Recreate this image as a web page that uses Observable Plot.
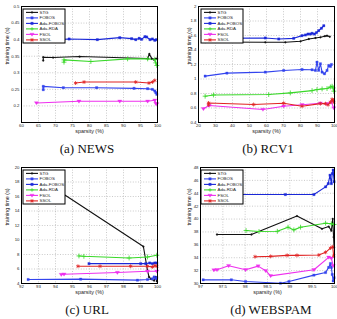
<!DOCTYPE html>
<html>
<head>
<meta charset="utf-8">
<script src="https://cdn.jsdelivr.net/npm/d3@7"></script>
<script src="https://cdn.jsdelivr.net/npm/@observablehq/plot@0.6"></script>
<style>
  body { margin: 0; background: #fff; }
  #fig { position: relative; width: 337px; height: 319px; overflow: hidden; background: #fff; }
  #fig svg { position: absolute; }
  .caption { position: absolute; font-family: "Liberation Serif", "Times New Roman", serif; font-size: 13px; color: #111; transform: translateX(-50%); white-space: nowrap; line-height: 1; }
</style>
</head>
<body>
<div id="fig"></div>
<script>
// Training time (s) against sparsity (%) for six online learners on four datasets.
const methods = ["STG", "FOBOS", "Ada-FOBOS", "Ada-RDA", "FSOL", "SSOL"];

// (a) NEWS — [sparsity %, training time s]
const newsSTG = [[66.4,0.337],[66.4,0.347],[69.3,0.346],[77.1,0.349],[97.1,0.343],[97.6,0.357],[98.3,0.343],[98.9,0.340],[99.6,0.343],[99.9,0.342]];
const newsFOBOS = [[66.4,0.249],[66.4,0.259],[72.3,0.255],[82.1,0.255],[93.1,0.253],[97.1,0.252],[98.5,0.250],[99.2,0.245],[99.5,0.240],[99.8,0.235]];
const newsAdaFOBOS = [[70.5,0.400],[74.0,0.402],[82.3,0.400],[88.9,0.406],[92.4,0.403],[93.6,0.400],[94.6,0.404],[95.3,0.401],[96.3,0.409],[96.8,0.408],[97.8,0.400],[98.5,0.402],[99.2,0.398],[99.7,0.400]];
const newsAdaRDA = [[72.5,0.332],[72.5,0.339],[80.4,0.334],[91.2,0.342],[97.1,0.342],[99.2,0.340],[99.5,0.330],[99.8,0.322]];
const newsFSOL = [[64.4,0.209],[76.9,0.214],[88.9,0.214],[97.1,0.214],[99.2,0.217],[99.5,0.207],[99.8,0.206]];
const newsSSOL = [[75.9,0.269],[78.4,0.272],[93.6,0.272],[97.5,0.269],[98.5,0.272],[99.2,0.277]];
const newsXTicks = [60,65,70,75,80,85,90,95,100];
const newsYTicks = [0.2,0.25,0.3,0.35,0.4,0.45,0.5];

// (b) RCV1
const rcvSTG = [[24,1.51],[59.3,1.506],[71.1,1.506],[80.0,1.52],[84.9,1.552],[88.8,1.566],[91.7,1.575],[94.3,1.59],[95.6,1.598],[97.2,1.584]];
const rcvFOBOS = [[23.9,1.04],[36.7,1.081],[59.3,1.095],[70.1,1.118],[80.9,1.131],[86.8,1.127],[88.8,1.118],[89.7,1.232],[90.7,1.12],[91.7,1.21],[92.7,1.095],[94.1,1.072],[95.6,1.118],[96.6,1.186],[97.6,1.173],[98.2,1.2]];
const rcvAdaFOBOS = [[24,1.56],[59.3,1.566],[67.2,1.552],[76,1.561],[80.9,1.598],[82.9,1.607],[84.4,1.62],[85.8,1.62],[86.8,1.63],[88.2,1.62],[89.4,1.64],[90.7,1.667],[92.3,1.70],[93.7,1.735]];
const rcvAdaRDA = [[23.9,0.763],[28.8,0.78],[61.3,0.786],[74,0.808],[86.8,0.84],[89.7,0.854],[92.7,0.863],[95.6,0.868],[97.6,0.89],[98.6,0.90],[99.2,0.877],[99.6,0.832]];
const rcvFSOL = [[22.9,0.589],[26.3,0.635],[57.9,0.58],[70.1,0.625],[80.9,0.644],[91.7,0.666],[95.6,0.657],[98.2,0.68],[99.6,0.598]];
const rcvSSOL = [[25.9,0.644],[25.9,0.67],[52.4,0.648],[70.1,0.666],[80.9,0.625],[91.7,0.66],[94.7,0.66],[96.2,0.644],[97.6,0.68],[98.6,0.72],[99.2,0.71],[99.6,0.68]];
const rcvXTicks = [20,30,40,50,60,70,80,90,100];
const rcvYTicks = [0.4,0.6,0.8,1,1.2,1.4,1.6,1.8,2];

// (c) URL
const urlSTG = [[92.6,19.2],[99.17,9.1],[99.41,5.8],[99.5,4.9],[99.64,4.6],[99.8,4.4],[99.9,4.9],[99.96,4.3]];
const urlFOBOS = [[92.39,4.55],[95.48,4.6],[98.82,4.46],[99.41,4.55],[99.7,4.64],[99.8,4.9],[99.9,4.68],[99.96,4.82]];
const urlAdaFOBOS = [[95.97,6.74],[99.01,6.74],[99.31,6.74],[99.54,6.83],[99.7,6.74],[99.84,6.83],[99.96,6.83]];
const urlAdaRDA = [[95.38,7.8],[95.67,7.75],[98.33,7.52],[99.41,7.66],[99.96,7.9]];
const urlFSOL = [[94.34,5.23],[94.5,5.28],[97.64,5.51],[99.41,5.69],[99.96,5.69]];
const urlSSOL = [[95.32,6.38],[96.62,6.38],[98.42,6.38],[99.41,6.38],[99.7,6.29],[99.84,6.46],[99.96,6.38]];
const urlXTicks = [92,93,94,95,96,97,98,99,100];
const urlYTicks = [4,6,8,10,12,14,16,18,20];

// (d) WEBSPAM
const webSTG = [[97.37,37.6],[98.14,37.6],[99.16,40.46],[99.72,38.48],[99.87,38.84],[99.93,38.2],[99.96,40.04],[99.98,37.2],[99.99,35.6]];
const webFOBOS = [[97.06,30.57],[97.69,30.57],[98.01,30.31],[98.79,30.05],[98.98,30.31],[99.54,31.3],[99.8,31.7],[99.87,32.5],[99.91,33.1],[99.93,32.5],[99.95,31.4],[99.97,30.4],[99.99,30.9]];
const webAdaFOBOS = [[97.2,43.8],[98.9,43.8],[99.54,43.8],[99.8,45.0],[99.86,45.5],[99.9,46.8],[99.93,45.5],[99.95,47.06],[99.97,47.6],[99.99,45.8]];
const webAdaRDA = [[98.02,38.22],[98.31,38.06],[98.72,38.1],[98.96,38.74],[99.09,38.32],[99.24,38.74],[99.8,39.36],[99.93,39.26],[99.99,39.16]];
const webFSOL = [[97.3,32.08],[97.37,32.13],[97.63,32.76],[98.01,32.13],[98.29,32.7],[98.46,31.98],[98.57,31.19],[99.54,32.13],[99.87,34.06],[99.93,33.9],[99.97,32.76]];
const webSSOL = [[98.22,34.16],[98.57,34.21],[98.94,34.37],[99.16,34.37],[99.65,34.42],[99.8,34.84],[99.91,35.5],[99.96,35.7],[99.98,34.3]];
const webXTicks = [97,97.5,98,98.5,99,99.5,100];
const webYTicks = [30,32,34,36,38,40,42,44,46,48];

// Line colours and markers per method
const methodColor = {
  "STG": "#111111", "FOBOS": "#3344ee", "Ada-FOBOS": "#1a28d8",
  "Ada-RDA": "#3ad82a", "FSOL": "#ee30ee", "SSOL": "#e02424"
};
const triangleDown = {
  draw(ctx, size) {
    const h = Math.sqrt(size) * 0.75;
    ctx.moveTo(-h, -h * 0.6);
    ctx.lineTo(h, -h * 0.6);
    ctx.lineTo(0, h * 0.9);
    ctx.closePath();
  }
};
const methodMarker = {
  "STG": {symbol: "circle", r: 0.9, filled: true},
  "FOBOS": {symbol: "square", r: 1.3, filled: true},
  "Ada-FOBOS": {symbol: "square", r: 1.3, filled: true},
  "Ada-RDA": {symbol: "plus", r: 1.7, filled: false},
  "FSOL": {symbol: triangleDown, r: 1.6, filled: true},
  "SSOL": {symbol: "asterisk", r: 1.8, filled: false}
};

const fmt = d => String(d);
const fig = document.getElementById("fig");

function markerMark(data, method) {
  const m = methodMarker[method];
  const c = methodColor[method];
  return Plot.dot(data, {
    x: "x", y: "y", symbol: m.symbol, r: m.r,
    fill: m.filled ? c : "none", stroke: c, strokeWidth: m.filled ? 0.3 : 0.8
  });
}

function panel(cfg) {
  const rows = [];
  cfg.series.forEach((pts, i) => pts.forEach(([x, y]) => rows.push({method: methods[i], x, y})));
  const byMethod = methods.map(m => rows.filter(r => r.method === m));
  const svg = Plot.plot({
    width: cfg.width, height: cfg.height,
    marginLeft: cfg.ml, marginRight: cfg.mr, marginTop: cfg.mt, marginBottom: cfg.mb,
    style: {fontFamily: "'Liberation Sans', Arial, sans-serif", fontSize: "4.3px", color: "#222", background: "transparent", overflow: "visible"},
    x: {domain: cfg.xDomain, ticks: cfg.xTicks, tickFormat: fmt, tickSize: 0, tickPadding: 1.5, label: null},
    y: {domain: cfg.yDomain, ticks: cfg.yTicks, tickFormat: fmt, tickSize: 0, tickPadding: 2, label: null},
    color: {domain: methods, range: methods.map(m => methodColor[m])},
    marks: [
      Plot.gridX(cfg.xTicks, {stroke: "#8a8a8a", strokeOpacity: 0.9, strokeWidth: 0.5, strokeDasharray: "1,1.6"}),
      Plot.gridY(cfg.yTicks, {stroke: "#8a8a8a", strokeOpacity: 0.9, strokeWidth: 0.5, strokeDasharray: "1,1.6"}),
      Plot.line(rows, {x: "x", y: "y", z: "method", stroke: "method", strokeWidth: 1.1}),
      ...methods.map((m, i) => markerMark(byMethod[i], m)),
      Plot.frame({stroke: "#000", strokeWidth: 1}),
      Plot.text(["sparsity (%)"], {frameAnchor: "bottom", dy: 10.2, fontSize: 5.4, fill: "#222"}),
      Plot.text(["training time (s)"], {frameAnchor: "left", dx: cfg.ylabelDx, rotate: -90, fontSize: 5.4, fill: "#222"})
    ]
  });
  svg.style.left = cfg.left + "px";
  svg.style.top = cfg.top + "px";
  fig.appendChild(svg);
  legend(cfg.legendX, cfg.legendY);
  const cap = document.createElement("div");
  cap.className = "caption";
  cap.textContent = cfg.caption;
  cap.style.left = cfg.capX + "px";
  cap.style.top = cfg.capY + "px";
  fig.appendChild(cap);
}

// Boxed legend drawn over the upper-left corner of each axes
function legend(x, y) {
  const w = 42, h = 34, row = 5.5;
  const svg = d3.create("svg").attr("width", w + 2).attr("height", h + 2)
    .style("left", (x - 1) + "px").style("top", (y - 1) + "px");
  const g = svg.append("g").attr("transform", "translate(1,1)");
  g.append("rect").attr("width", w).attr("height", h).attr("fill", "#fff").attr("stroke", "#000").attr("stroke-width", 1);
  methods.forEach((m, i) => {
    const cy = 3.4 + i * row;
    const c = methodColor[m];
    g.append("line").attr("x1", 3).attr("x2", 15).attr("y1", cy).attr("y2", cy).attr("stroke", c).attr("stroke-width", 1.1);
    const mk = methodMarker[m];
    let d;
    if (mk.symbol === "plus") d = "M-1.7,0H1.7M0,-1.7V1.7";
    else if (mk.symbol === "asterisk") d = "M-1.8,0H1.8M0,-1.8V1.8M-1.3,-1.3L1.3,1.3M-1.3,1.3L1.3,-1.3";
    else if (mk.symbol === "circle") d = d3.symbol(d3.symbolCircle, 2.5)();
    else if (mk.symbol === "square") d = d3.symbol(d3.symbolSquare, 6)();
    else d = d3.symbol(mk.symbol, 8)();
    g.append("path").attr("d", d)
      .attr("transform", `translate(9,${cy})`)
      .attr("fill", mk.filled ? c : "none").attr("stroke", c).attr("stroke-width", mk.filled ? 0.3 : 0.8);
    g.append("text").attr("x", 16.5).attr("y", cy).attr("dy", "0.35em")
      .attr("font-family", "'Liberation Sans', Arial, sans-serif").attr("font-size", 4.4).attr("fill", "#222").text(m);
  });
  fig.appendChild(svg.node());
}

panel({
  series: [newsSTG, newsFOBOS, newsAdaFOBOS, newsAdaRDA, newsFSOL, newsSSOL],
  xDomain: [60, 100], yDomain: [0.15, 0.5], xTicks: newsXTicks, yTicks: newsYTicks,
  left: 0, top: 0, width: 168, height: 140, ml: 21, mr: 11, mt: 6, mb: 18, ylabelDx: -14,
  legendX: 23, legendY: 9, caption: "(a) NEWS", capX: 87, capY: 142
});
panel({
  series: [rcvSTG, rcvFOBOS, rcvAdaFOBOS, rcvAdaRDA, rcvFSOL, rcvSSOL],
  xDomain: [20, 100], yDomain: [0.4, 2], xTicks: rcvXTicks, yTicks: rcvYTicks,
  left: 168, top: 0, width: 169, height: 140, ml: 30, mr: 3, mt: 6, mb: 18, ylabelDx: -9.5,
  legendX: 201, legendY: 9, caption: "(b) RCV1", capX: 268, capY: 142
});
panel({
  series: [urlSTG, urlFOBOS, urlAdaFOBOS, urlAdaRDA, urlFSOL, urlSSOL],
  xDomain: [92, 100], yDomain: [4, 20], xTicks: urlXTicks, yTicks: urlYTicks,
  left: 0, top: 160, width: 168, height: 140, ml: 21, mr: 11, mt: 7, mb: 17, ylabelDx: -14,
  legendX: 23, legendY: 170, caption: "(c) URL", capX: 87, capY: 303
});
panel({
  series: [webSTG, webFOBOS, webAdaFOBOS, webAdaRDA, webFSOL, webSSOL],
  xDomain: [97, 100], yDomain: [30, 48], xTicks: webXTicks, yTicks: webYTicks,
  left: 168, top: 160, width: 169, height: 140, ml: 32, mr: 3, mt: 7, mb: 17, ylabelDx: -11,
  legendX: 201, legendY: 170, caption: "(d) WEBSPAM", capX: 271, capY: 303
});
</script>
</body>
</html>
